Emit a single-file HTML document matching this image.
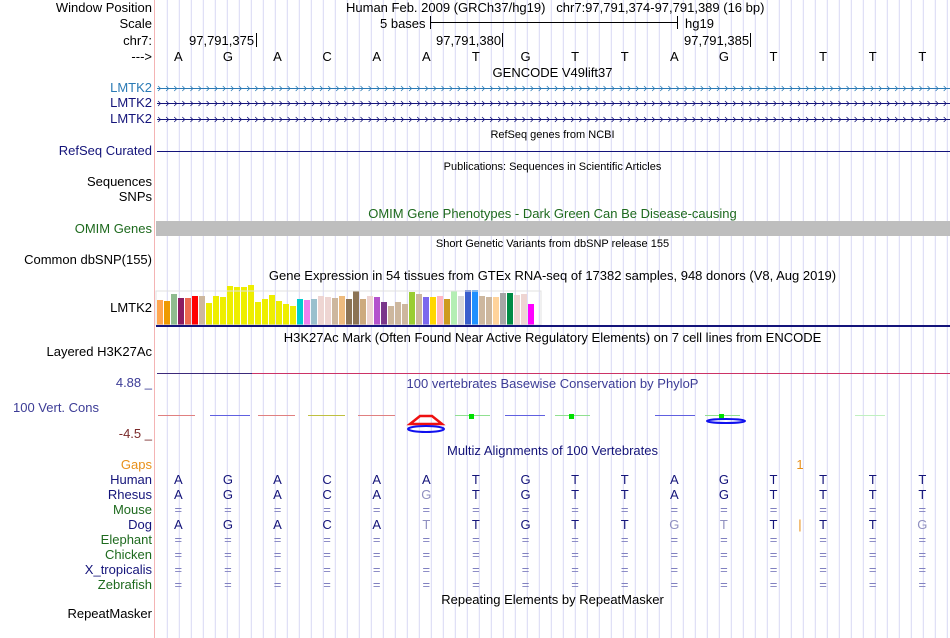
<!DOCTYPE html>
<html><head><meta charset="utf-8"><style>
body{margin:0;background:#fff;width:950px;height:638px;overflow:hidden;position:relative;font-family:"Liberation Sans",sans-serif;font-size:13px}
.t{position:absolute;white-space:nowrap;line-height:15px}
.l{position:absolute;right:798px;text-align:right;white-space:nowrap;line-height:15px}
.c{position:absolute;left:155px;width:795px;text-align:center;white-space:nowrap;line-height:15px}
</style></head><body>
<svg id="bg" width="950" height="638" style="position:absolute;left:0;top:0"></svg>
<div class="l" style="top:0">Window Position</div>
<div class="l" style="top:16px">Scale</div>
<div class="l" style="top:33px">chr7:</div>
<div class="l" style="top:49px">---&gt;</div>
<div class="t" style="left:346px;top:0">Human Feb. 2009 (GRCh37/hg19)&nbsp;&nbsp; chr7:97,791,374-97,791,389 (16 bp)</div>
<div class="t" style="left:380px;top:16px">5 bases</div>
<div class="t" style="left:685px;top:16px">hg19</div>
<div class="t" style="left:189px;top:33px">97,791,375</div>
<div class="t" style="left:436px;top:33px">97,791,380</div>
<div class="t" style="left:684px;top:33px">97,791,385</div>
<div class="c" style="top:65px">GENCODE V49lift37</div>
<div class="l" style="top:80px;color:#2a7ab5">LMTK2</div>
<div class="l" style="top:95px;color:#14147a">LMTK2</div>
<div class="l" style="top:111px;color:#14147a">LMTK2</div>
<div class="c" style="top:128px;font-size:11px">RefSeq genes from NCBI</div>
<div class="l" style="top:143px;color:#14147a">RefSeq Curated</div>
<div class="c" style="top:160px;font-size:11px">Publications: Sequences in Scientific Articles</div>
<div class="l" style="top:174px">Sequences</div>
<div class="l" style="top:189px">SNPs</div>
<div class="c" style="top:206px;color:#1e6a1e">OMIM Gene Phenotypes - Dark Green Can Be Disease-causing</div>
<div class="l" style="top:221px;color:#1e6a1e">OMIM Genes</div>
<div class="c" style="top:237px;font-size:11px">Short Genetic Variants from dbSNP release 155</div>
<div class="l" style="top:252px">Common dbSNP(155)</div>
<div class="c" style="top:268px">Gene Expression in 54 tissues from GTEx RNA-seq of 17382 samples, 948 donors (V8, Aug 2019)</div>
<div class="l" style="top:300px">LMTK2</div>
<div class="c" style="top:330px">H3K27Ac Mark (Often Found Near Active Regulatory Elements) on 7 cell lines from ENCODE</div>
<div class="l" style="top:344px">Layered H3K27Ac</div>
<div class="l" style="top:375px;color:#3c3c96">4.88 _</div>
<div class="c" style="top:376px;color:#3c3c96">100 vertebrates Basewise Conservation by PhyloP</div>
<div class="t" style="left:13px;top:400px;color:#3c3c96">100 Vert. Cons</div>
<div class="l" style="top:426px;color:#7a2a2a">-4.5 _</div>
<div class="c" style="top:443px;color:#14147a">Multiz Alignments of 100 Vertebrates</div>
<div class="l" style="top:457px;color:#e8901a">Gaps</div>
<div class="c" style="top:592px">Repeating Elements by RepeatMasker</div>
<div class="l" style="top:606px">RepeatMasker</div>
<div id="dyn"></div>
<script>
const bases=['A','G','A','C','A','A','T','G','T','T','A','G','T','T','T','T'];
const species=['Human','Rhesus','Mouse','Dog','Elephant','Chicken','X_tropicalis','Zebrafish'];
const speciesColors=['#14147a','#14147a','#1e6a1e','#14147a','#1e6a1e','#1e6a1e','#14147a','#1e6a1e'];
const rhesus=['A','G','A','C','A','g','T','G','T','T','A','G','T','T','T','T'];
const dog=['A','G','A','C','A','t','T','G','T','T','g','t','T','T','T','g'];
const gtexHeights=[25,24,31,27,27,29,29,22,29,28,39,38,38,40,23,26,30,24,21,19,26,25,26,29,28,27,29,26,34,26,29,28,23,19,23,21,33,31,28,28,29,26,34,29,35,35,29,28,28,32,32,30,31,21];
const gtexColors=['#ffa54f','#ee9a00','#8fbc8f','#8b1c62','#ee6a50','#ff0000','#cdb79e','#eeee00','#eeee00','#eeee00','#eeee00','#eeee00','#eeee00','#eeee00','#eeee00','#eeee00','#eeee00','#eeee00','#eeee00','#eeee00','#00cdcd','#ee82ee','#9ac0cd','#eed5d2','#eed5d2','#cdb79e','#eebb7e','#8b7355','#8b7355','#cdaa7d','#eed5d2','#b452cd','#7a378b','#cdb79e','#cdb79e','#cdb79e','#9acd32','#cdb79e','#7b68ee','#ffd700','#ffb6c1','#cd9b1d','#b4eeb4','#d9d9d9','#3a5fcd','#1e90ff','#cdb79e','#cdb79e','#ffd39b','#a6a6a6','#008b45','#eed5d2','#eed5d2','#ff00ff'];
const NS='http://www.w3.org/2000/svg';
const bg=document.getElementById('bg');
const dyn=document.getElementById('dyn');
const x0=153.5,bw=49.6;
function bx(i){return x0+bw*(i+0.5);}
function gy(h){return 325-h;}
function el(tag,attrs){const e=document.createElementNS(NS,tag);for(const k in attrs)e.setAttribute(k,attrs[k]);bg.appendChild(e);return e;}
for(let x=167.3;x<950;x+=12){const e=el('line',{x1:x,x2:x,y1:0,y2:638,stroke:'#d8d8f4','stroke-width':1});

}
let e=el('line',{x1:154.5,x2:154.5,y1:0,y2:638,stroke:'#f4b4b4','stroke-width':1});


el('line',{x1:430,x2:678,y1:22.5,y2:22.5,stroke:'#000'});
el('line',{x1:430.5,x2:430.5,y1:16,y2:29,stroke:'#000'});
el('line',{x1:677.5,x2:677.5,y1:16,y2:29,stroke:'#000'});
[256.5,502.5,750.5].forEach(x=>el('line',{x1:x,x2:x,y1:33,y2:47,stroke:'#000'}));
[[88,'#2a7ab5'],[103,'#14147a'],[119,'#14147a']].forEach(([y,c],k)=>{
 const g=el('line',{x1:157,x2:950,y1:y+0.5,y2:y+0.5,stroke:c});
 
 
 let d='';for(let x=158;x<948;x+=8.1){d+=`M${x.toFixed(1)} ${y-2}L${(x+2.5).toFixed(1)} ${y+0.5}L${x.toFixed(1)} ${y+3}`;}
 el('path',{d:d,stroke:c,fill:'none','stroke-width':0.8});
});
e=el('line',{x1:157,x2:950,y1:151.5,y2:151.5,stroke:'#14147a'});


e=el('rect',{x:156,y:221,width:794,height:15,fill:'#bebebe'});


gtexHeights.forEach((h,i)=>{const r=el('rect',{x:157+i*7,y:gy(h),width:6,height:h,fill:gtexColors[i]});

});
el('rect',{x:156,y:291,width:385,height:34,fill:'none',stroke:'#e0e0e0'});
el('rect',{x:156,y:325,width:794,height:2,fill:'#14147a'});
el('line',{x1:157,x2:950,y1:373.5,y2:373.5,stroke:'#cc3366'});
el('line',{x1:157,x2:252,y1:373.5,y2:373.5,stroke:'#3c2a7a'});
[[158,195,'#e08080'],[210,250,'#6060e0'],[258,295,'#e08080'],[308,345,'#c0c040'],[358,395,'#e08080'],[455,490,'#90e090'],[505,545,'#6060e0'],[555,590,'#90e090'],[655,695,'#6060e0'],[705,740,'#90e090'],[855,885,'#c0f0c0']].forEach(([a,b,c])=>el('line',{x1:a,x2:b,y1:415.5,y2:415.5,stroke:c,'stroke-width':1}));
el('rect',{x:469,y:414,width:5,height:5,fill:'#00e000'});
el('rect',{x:569,y:414,width:5,height:5,fill:'#00e000'});
el('rect',{x:719,y:414,width:5,height:5,fill:'#00e000'});
el('path',{d:'M410 424 L420 416 L432 416 L442 424 Z',fill:'none',stroke:'#ee1010','stroke-width':2.5});
el('ellipse',{cx:426,cy:429,rx:18,ry:3,fill:'none',stroke:'#1010ee','stroke-width':2});
el('ellipse',{cx:726,cy:421,rx:19,ry:2,fill:'none',stroke:'#1010ee','stroke-width':2});
function txt(x,y,s,c){const d=document.createElement('div');d.className='t';d.style.left=(x-5)+'px';d.style.top=y+'px';d.style.width='10px';d.style.textAlign='center';d.style.color=c;d.textContent=s;dyn.appendChild(d);return d;}
bases.forEach((b,i)=>{const d=txt(bx(i),49,b,'#000');

});
const rows=[bases,rhesus,null,dog,null,null,null,null];
species.forEach((sp,r)=>{const y=472+r*15;
 const l=document.createElement('div');l.className='l';l.style.top=y+'px';l.style.color=speciesColors[r];l.textContent=sp;
 
 
 dyn.appendChild(l);
 for(let i=0;i<16;i++){let s=rows[r]?rows[r][i]:'=';let c='#14147a';
  if(s==='='){c='#8080c0';}
  else if(s===s.toLowerCase()){s=s.toUpperCase();c='#9090c0';}
  const d=txt(bx(i),y,s,c);
  
  }
});
const ins=txt(800,517,'|','#e8901a');


const g=txt(800,457,'1','#e8901a');


</script>
</body></html>
